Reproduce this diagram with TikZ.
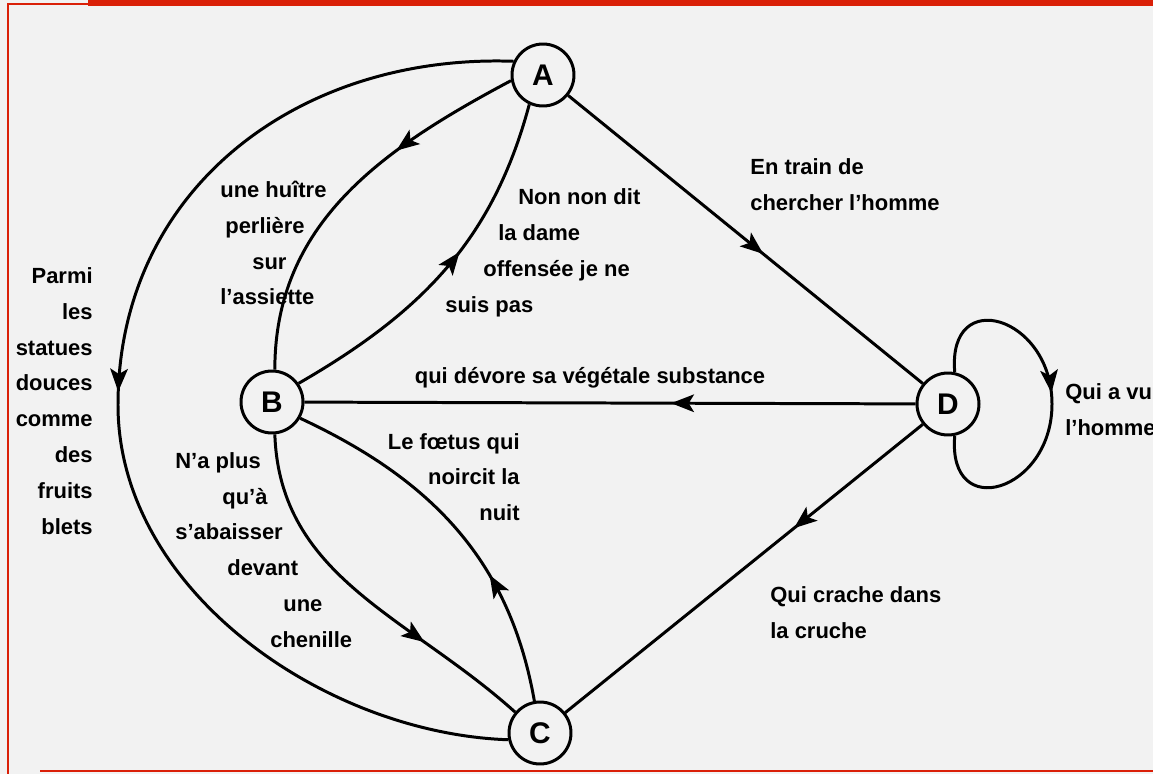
\documentclass[tikz,border=0pt]{standalone}
\usepackage{fontspec}
\setmainfont{Liberation Sans}
\usetikzlibrary{arrows.meta,decorations.markings}
\definecolor{scan}{RGB}{242,242,242}
\definecolor{frame}{RGB}{218,32,8}

\begin{document}
\begin{tikzpicture}[x=0.02cm,y=0.02cm,
            circ/.style={draw,circle,line width=1.7pt,minimum size=1.24cm,inner sep=0pt,fill=scan,font=\fontsize{17pt}{17pt}\selectfont\bfseries},
            lab/.style={inner sep=0pt,font=\fontsize{12.5pt}{20.4pt}\selectfont\bfseries},
            link/.style={draw,line width=1.7pt},
            mid/.style={decoration={markings,mark=at position #1 with {\arrow{Stealth[length=13pt,width=10pt,inset=3pt]}}},postaction={decorate}}
          ]
          %background and frame
          \fill[scan] (0,0) rectangle (1153,-774);
          \useasboundingbox (0,0) rectangle (1153,-774);
          \fill[frame] (88,0) rectangle (1153,-6);
          \draw[frame,line width=0.9pt] (88,-4) -- (8,-4) -- (8,-774);
          \draw[frame,line width=1.2pt] (40,-771) -- (1153,-771);

          %states
          \node[circ] (A) at (543,-75) {A};
          \node[circ] (B) at (272,-402) {B};
          \node[circ] (C) at (540,-733) {C};
          \node[circ] (D) at (948,-404) {D};
          \coordinate (loopr) at (1052,-404);
          \coordinate (outl) at (118,-405);

          %transitions
          \draw[link,mid=0.55] (A) -- (D);
          \draw[link,mid=0.4] (D) -- (B);
          \draw[link,mid=0.36] (D) -- (C);
          \draw[link,mid=0.47] (D.78) to[out=95,in=90,looseness=2.2] (loopr) to[out=-90,in=-95,looseness=2.2] (D.-78);
          \draw[link,mid=0.34] (A.190) to[out=208,in=90] (B.85);
          \draw[link,mid=0.56] (B.35) to[out=30,in=-105] (A.-115);
          \draw[link,mid=0.5] (A.155) to[out=178,in=90,looseness=1.05] (outl) to[out=-90,in=178,looseness=0.92] (C.192);
          \draw[link,mid=0.7] (B.-85) to[out=-88,in=138] (C.140);
          \draw[link,mid=0.35] (C.100) to[out=100,in=-25] (B.-30);

          %labels
          \node[lab,anchor=west,align=left] (train) at (750,-185) {En train de\\chercher l'homme};
          \node[lab] (devore) at (590,-378) {qui dévore sa végétale substance};
          \node[lab,anchor=west,align=left] (crache) at (770,-613) {Qui crache dans\\la cruche};
          \node[lab,anchor=west,align=left] (vu) at (1065,-410) {Qui a vu\\l'homme};
          \node[lab,anchor=east,align=right] (parmi) at (93,-401) {Parmi\\les\\statues\\douces\\comme\\des\\fruits\\blets};
          \node[lab,anchor=west,align=left] (huitre) at (220,-243) {une huître\\\hspace*{0.1cm}perlière\\\hspace*{0.64cm}sur\\l'assiette};
          \node[lab,anchor=west,align=left] (dame) at (445,-253) {\hspace*{1.46cm}Non non dit\\\hspace*{1.06cm}la dame\\\hspace*{0.76cm}offensée je ne\\suis pas};
          \node[lab,anchor=east,align=right] (foetus) at (520,-477) {Le fœtus qui\\noircit la\\nuit};
          \node[lab,anchor=west,align=left] (chenille) at (175,-550) {N'a plus\\\hspace*{0.94cm}qu'à\\s'abaisser\\\hspace*{1.04cm}devant\\\hspace*{2.16cm}une\\\hspace*{1.9cm}chenille};
      \end{tikzpicture}
\end{document}
